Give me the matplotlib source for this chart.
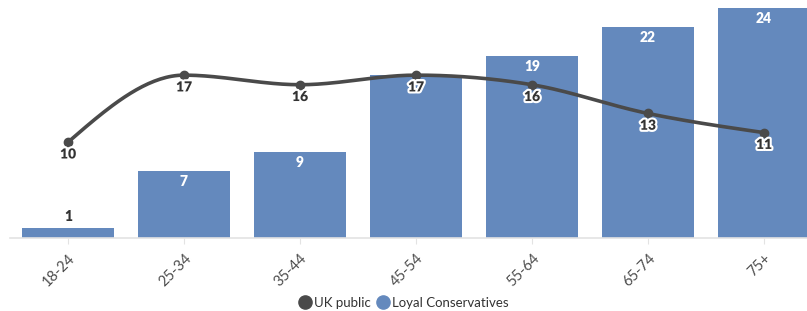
import matplotlib
matplotlib.use("Agg")
import matplotlib.pyplot as plt
import matplotlib.patheffects as pe
from matplotlib.lines import Line2D
import numpy as np

plt.rcParams["font.family"] = ["Lato", "DejaVu Sans"]

# Data
age_groups = ["18-24", "25-34", "35-44", "45-54", "55-64", "65-74", "75+"]
loyal_conservatives = [1, 7, 9, 17, 19, 22, 24]
uk_public = [10, 17, 16, 17, 16, 13, 11]

bar_color = "#6489bd"
line_color = "#4a4a4a"
text_color = "#333333"


# Monotone cubic curve (same idea as d3 curveMonotoneX)
def monotone_curve(xs, ys, steps=40):
    xs = np.asarray(xs, float)
    ys = np.asarray(ys, float)
    n = len(xs)
    h = np.diff(xs)
    s = np.diff(ys) / h
    t = np.zeros(n)
    for i in range(1, n - 1):
        p = (s[i - 1] * h[i] + s[i] * h[i - 1]) / (h[i - 1] + h[i])
        t[i] = (np.sign(s[i - 1]) + np.sign(s[i])) * min(abs(s[i - 1]), abs(s[i]), 0.5 * abs(p))
    t[0] = (3 * s[0] - t[1]) / 2
    t[-1] = (3 * s[-1] - t[-2]) / 2
    out_x, out_y = [], []
    for i in range(n - 1):
        u = np.linspace(0, 1, steps)
        h00 = 2 * u**3 - 3 * u**2 + 1
        h10 = u**3 - 2 * u**2 + u
        h01 = -2 * u**3 + 3 * u**2
        h11 = u**3 - u**2
        out_x.extend(xs[i] + u * h[i])
        out_y.extend(h00 * ys[i] + h10 * h[i] * t[i] + h01 * ys[i + 1] + h11 * h[i] * t[i + 1])
    return np.array(out_x), np.array(out_y)


W, H = 807, 311
fig = plt.figure(figsize=(W / 100, H / 100), dpi=100)
# axis runs past the right edge like in the original
ax = fig.add_axes([10 / W, (H - 238) / H, 812 / W, 238 / H])

x = np.arange(len(age_groups))
ax.bar(x, loyal_conservatives, width=0.8, color=bar_color, zorder=2)

cx, cy = monotone_curve(x, uk_public)
ax.plot(cx, cy, color=line_color, lw=2.6, zorder=3, solid_capstyle="round")
ax.plot(x, uk_public, "o", color=line_color, ms=6, zorder=4)

ax.set_xlim(-0.5, len(age_groups) - 0.5)
ax.set_ylim(0, 238 / 9.58)

# bar labels
for xi, v in zip(x, loyal_conservatives):
    if v < 3:
        ax.annotate(str(v), (xi, v), xytext=(0, 8.5), textcoords="offset points",
                    ha="center", va="center", fontsize=10, fontweight="heavy",
                    color=text_color, zorder=5)
    else:
        ax.annotate(str(v), (xi, v), xytext=(0, -7.5), textcoords="offset points",
                    ha="center", va="center", fontsize=10, fontweight="heavy",
                    color="white", zorder=5)

# line labels with white halo
for xi, v in zip(x, uk_public):
    ax.annotate(str(v), (xi, v), xytext=(0, -8.5), textcoords="offset points",
                ha="center", va="center", fontsize=10, fontweight="heavy",
                color=text_color, zorder=6,
                path_effects=[pe.withStroke(linewidth=3, foreground="white")])

for side in ["top", "right", "left"]:
    ax.spines[side].set_visible(False)
ax.spines["bottom"].set_color("#e3e3e3")
ax.spines["bottom"].set_linewidth(1.2)
ax.set_yticks([])
ax.set_xticks(x)
ax.set_xticklabels(age_groups, rotation=45, ha="right", rotation_mode="anchor",
                   fontsize=10.5, color="#4d4d4d")
ax.tick_params(axis="x", length=4.5, color="#e3e3e3", pad=5)

handles = [
    Line2D([], [], marker="o", ls="", color=line_color, ms=9.5, label="UK public"),
    Line2D([], [], marker="o", ls="", color=bar_color, ms=9.5, label="Loyal Conservatives"),
]
fig.legend(handles=handles, loc="center", bbox_to_anchor=(402 / W, 1 - 303 / H),
           ncol=2, frameon=False, fontsize=9.5, handletextpad=-0.1, columnspacing=0.2,
           handlelength=1.5, labelcolor="#333333")

fig.savefig("out.png", dpi=100)
